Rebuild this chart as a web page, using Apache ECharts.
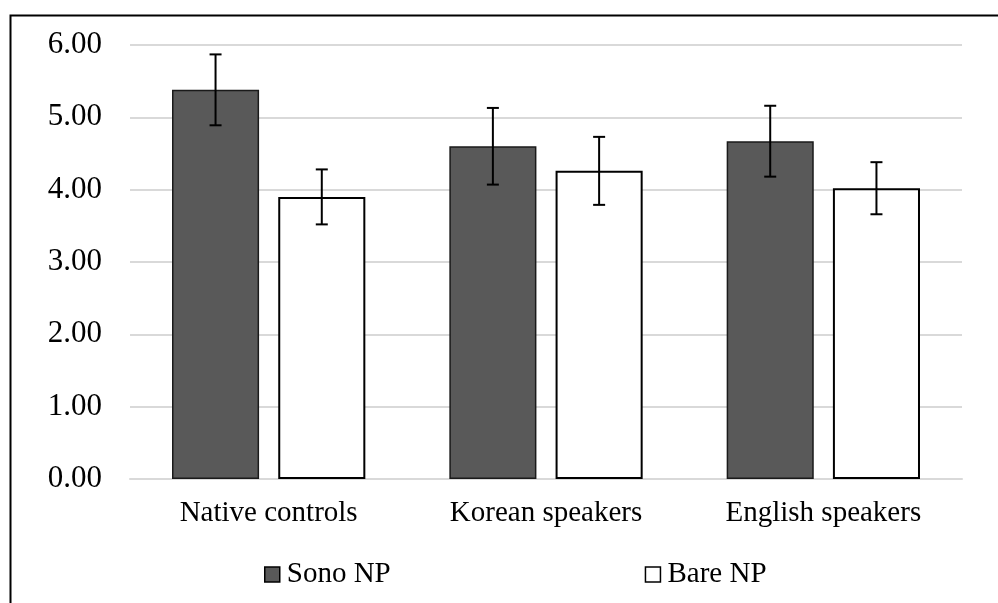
<!DOCTYPE html>
<html>
<head>
<meta charset="utf-8">
<style>
  html, body { margin: 0; padding: 0; background: #fff; }
  #chart { width: 998px; height: 603px; }
</style>
<script src="https://cdn.jsdelivr.net/npm/echarts@6/dist/echarts.min.js"></script>
</head>
<body>
<div id="chart"></div>
<script>
// Group labels and per-condition means with their error margins
const categories = ['Native controls', 'Korean speakers', 'English speakers'];
const sonoValues = [5.38, 4.60, 4.67];
const sonoErrors = [0.49, 0.53, 0.49];
const bareValues = [3.90, 4.26, 4.02];
const bareErrors = [0.38, 0.47, 0.36];
const yTicks = [0, 1, 2, 3, 4, 5, 6];

const FONT = '"Liberation Serif", "Times New Roman", serif';
const BAR_WIDTH_FRAC = 0.314;   // bar width as share of a category band
const BAR_GAP_FRAC = 0.22;      // gap between paired bars, as share of bar width

function errorData(values, errors) {
  return values.map((v, i) => [i, v - errors[i], v + errors[i]]);
}

// Whisker renderer; side = -1 for the left bar of a pair, +1 for the right bar
function makeErrorRenderer(side) {
  return function (params, api) {
    const idx = api.value(0);
    const lowPt = api.coord([idx, api.value(1)]);
    const highPt = api.coord([idx, api.value(2)]);
    const band = api.size([1, 0])[0];
    const bw = band * BAR_WIDTH_FRAC;
    const x = lowPt[0] + side * (bw + bw * BAR_GAP_FRAC) / 2;
    const cap = 6;
    const style = { stroke: '#000', lineWidth: 2 };
    return {
      type: 'group',
      children: [
        { type: 'line', shape: { x1: x, y1: highPt[1], x2: x, y2: lowPt[1] }, style: style },
        { type: 'line', shape: { x1: x - cap, y1: highPt[1], x2: x + cap, y2: highPt[1] }, style: style },
        { type: 'line', shape: { x1: x - cap, y1: lowPt[1], x2: x + cap, y2: lowPt[1] }, style: style }
      ]
    };
  };
}

const chart = echarts.init(document.getElementById('chart'), null, { renderer: 'canvas' });

chart.setOption({
  backgroundColor: '#fff',
  animation: false,
  textStyle: { fontFamily: FONT, color: '#000' },
  graphic: [{
    type: 'rect',
    left: 8, top: 13,
    shape: { width: 1100, height: 700 },
    style: { fill: 'none', stroke: '#000', lineWidth: 2 },
    silent: true
  }],
  grid: { left: 130, right: 36, top: 45, bottom: 124 },
  legend: {
    left: 264,
    top: 560,
    padding: 0,
    itemWidth: 15,
    itemHeight: 15,
    itemGap: 254,
    icon: 'rect',
    textStyle: { fontFamily: FONT, fontSize: 29, color: '#000', padding: [0, 0, 0, 2] },
    data: [
      { name: 'Sono NP', itemStyle: { color: '#595959', borderColor: '#000', borderWidth: 1.5 } },
      { name: 'Bare NP', itemStyle: { color: '#fff', borderColor: '#000', borderWidth: 1.5 } }
    ]
  },
  xAxis: {
    type: 'category',
    data: categories,
    axisLine: { show: true, lineStyle: { color: '#d9d9d9', width: 2 } },
    axisTick: { show: false },
    axisLabel: { fontFamily: FONT, fontSize: 29, color: '#000', margin: 20 }
  },
  yAxis: {
    type: 'value',
    min: yTicks[0],
    max: yTicks[yTicks.length - 1],
    interval: 1,
    axisLine: { show: false },
    axisTick: { show: false },
    splitLine: { lineStyle: { color: '#d9d9d9', width: 2 } },
    axisLabel: {
      fontFamily: FONT, fontSize: 31, color: '#000', margin: 28,
      formatter: v => v.toFixed(2)
    }
  },
  series: [
    {
      name: 'Sono NP',
      type: 'bar',
      data: sonoValues,
      barWidth: (BAR_WIDTH_FRAC * 100) + '%',
      barGap: (BAR_GAP_FRAC * 100) + '%',
      itemStyle: { color: '#595959', borderColor: '#1a1a1a', borderWidth: 1.5 }
    },
    {
      name: 'Bare NP',
      type: 'bar',
      data: bareValues,
      barWidth: (BAR_WIDTH_FRAC * 100) + '%',
      barGap: (BAR_GAP_FRAC * 100) + '%',
      itemStyle: { color: '#fff', borderColor: '#000', borderWidth: 2 }
    },
    {
      name: 'Sono NP error',
      type: 'custom',
      renderItem: makeErrorRenderer(-1),
      data: errorData(sonoValues, sonoErrors),
      encode: { x: 0, y: [1, 2] },
      z: 10
    },
    {
      name: 'Bare NP error',
      type: 'custom',
      renderItem: makeErrorRenderer(1),
      data: errorData(bareValues, bareErrors),
      encode: { x: 0, y: [1, 2] },
      z: 10
    }
  ]
});
</script>
</body>
</html>
